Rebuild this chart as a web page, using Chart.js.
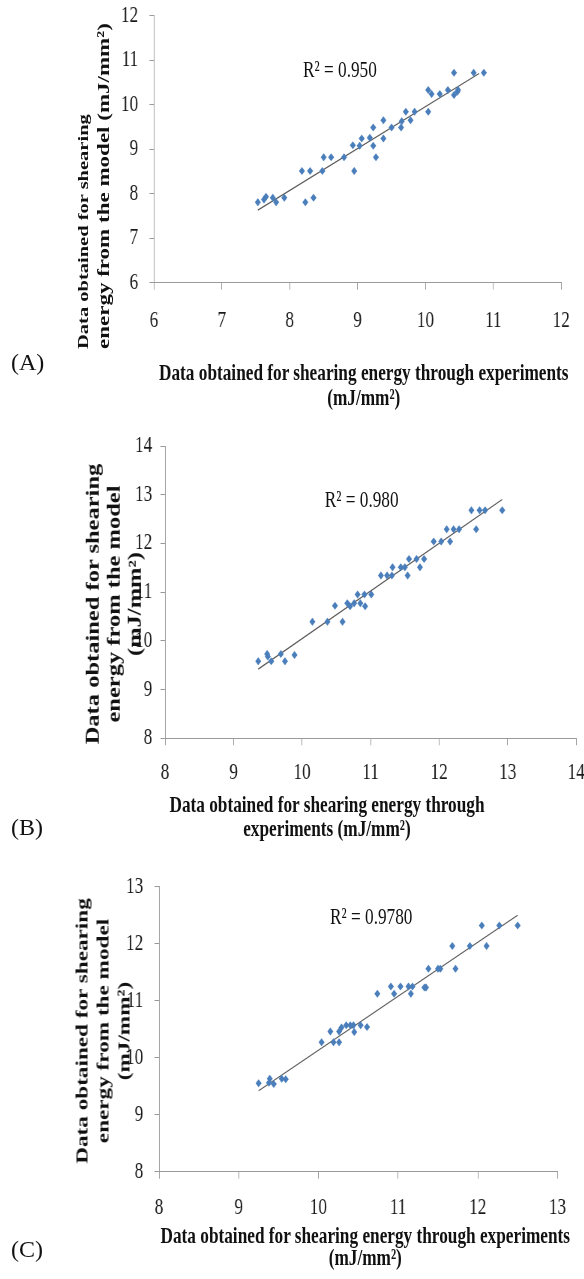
<!DOCTYPE html>
<html>
<head>
<meta charset="utf-8">
<script src="https://cdn.jsdelivr.net/npm/chart.js@4.4.1/dist/chart.umd.min.js"></script>
<style>
  html, body { margin:0; padding:0; background:#fff; }
  body { width:584px; height:1279px; position:relative; overflow:hidden; font-family:'Liberation Serif', 'Times New Roman', serif; color:#111; }
  #wrap { position:absolute; left:0; top:0; width:778.67px; height:1279px; transform:scaleX(0.75); transform-origin:0 0; }
  canvas { position:absolute; left:0; }
  .xt { position:absolute; text-align:center; font-weight:bold; font-size:23px; white-space:pre; }
  .yt { position:absolute; font-weight:bold; white-space:pre; transform:rotate(-90deg); transform-origin:0 0; }
  .r2 { position:absolute; font-size:23px; line-height:23px; white-space:pre; }
  .lab { position:absolute; left:11px; font-size:24px; line-height:24px; }
</style>
</head>
<body>
<div id="wrap">
  <canvas id="cA" width="779" height="340" style="top:0px"></canvas>
  <canvas id="cB" width="779" height="400" style="top:420px"></canvas>
  <canvas id="cC" width="779" height="439" style="top:840px"></canvas>

  <div class="r2" style="left:404px;top:58px">R² = 0.950</div>
  <div class="r2" style="left:433px;top:488px">R² = 0.980</div>
  <div class="r2" style="left:440px;top:905px">R² = 0.9780</div>

  <div class="xt" style="left:105px;top:360px;width:760px;line-height:25px">Data obtained for shearing energy through experiments
(mJ/mm²)</div>
  <div class="xt" style="left:56px;top:793px;width:760px;line-height:24px">Data obtained for shearing energy through
experiments (mJ/mm²)</div>
  <div class="xt" style="left:107px;top:1225px;width:760px;line-height:22px">Data obtained for shearing energy through experiments
(mJ/mm²)</div>

  <div class="yt" style="left:95.5px;top:349px;font-size:23px;line-height:27px;text-align:left"><span style="font-size:20.5px">Data obtained for shearing</span>
energy from the model (mJ/mm²)</div>
  <div class="yt" style="left:108.7px;top:804px;width:400px;font-size:24.5px;line-height:28px;text-align:center">Data obtained for shearing
energy from the model
(mJ/mm²)</div>
  <div class="yt" style="left:93.7px;top:1231px;width:400px;font-size:23.2px;line-height:28.5px;text-align:center">Data obtained for shearing
energy from the model
(mJ/mm²)</div>
</div>
<div class="lab" style="top:350px">(A)</div>
<div class="lab" style="top:815px">(B)</div>
<div class="lab" style="top:1237px">(C)</div>

<script>
// ---- Chart (A) ----
const aX = [7.53,7.62,7.65,7.75,7.80,7.92,8.23,8.35,8.18,8.30,8.48,8.50,8.61,8.80,8.95,8.93,9.03,9.06,9.18,9.23,9.27,9.23,9.38,9.38,9.50,9.64,9.65,9.71,9.78,9.84,10.04,10.04,10.09,10.21,10.33,10.42,10.42,10.47,10.48,10.71,10.86];
const aY = [7.81,7.87,7.93,7.91,7.81,7.91,7.81,7.91,8.51,8.51,8.51,8.82,8.82,8.82,8.51,9.09,9.08,9.24,9.26,9.08,8.82,9.49,9.24,9.65,9.49,9.49,9.63,9.84,9.65,9.84,9.84,10.33,10.24,10.24,10.33,10.72,10.22,10.29,10.33,10.72,10.72];
const aTrendX = [7.53, 10.79];
const aTrendY = [7.63, 10.70];
const aXRange = [6, 12];
const aYRange = [6, 12];

// ---- Chart (B) ----
const bX = [9.36,9.49,9.50,9.55,9.69,9.75,9.89,10.15,10.37,10.48,10.59,10.66,10.70,10.76,10.81,10.85,10.91,10.92,11.01,11.15,11.24,11.31,11.32,11.44,11.50,11.54,11.56,11.67,11.72,11.78,11.92,12.03,12.11,12.16,12.21,12.29,12.47,12.54,12.59,12.67,12.92];
const bY = [9.58,9.73,9.68,9.58,9.73,9.58,9.71,10.39,10.39,10.72,10.39,10.77,10.71,10.77,10.95,10.77,10.95,10.71,10.95,11.34,11.34,11.34,11.51,11.51,11.51,11.34,11.68,11.68,11.51,11.68,12.04,12.04,12.29,12.04,12.29,12.29,12.68,12.29,12.68,12.68,12.68];
const bTrendX = [9.36, 12.92];
const bTrendY = [9.42, 12.90];
const bXRange = [8, 14];
const bYRange = [8, 14];

// ---- Chart (C) ----
const cX = [9.25,9.38,9.39,9.44,9.54,9.59,10.04,10.15,10.19,10.26,10.26,10.29,10.35,10.40,10.44,10.45,10.53,10.61,10.74,10.91,10.95,11.03,11.13,11.16,11.18,11.33,11.35,11.38,11.50,11.53,11.68,11.72,11.90,12.05,12.11,12.27,12.50];
const cY = [9.55,9.56,9.63,9.54,9.63,9.62,10.27,10.46,10.27,10.27,10.46,10.53,10.57,10.57,10.57,10.45,10.57,10.54,11.12,11.25,11.12,11.25,11.25,11.12,11.25,11.23,11.23,11.56,11.56,11.56,11.96,11.56,11.96,12.32,11.96,12.32,12.32];
const cTrendX = [9.25, 12.50];
const cTrendY = [9.42, 12.50];
const cXRange = [8, 13];
const cYRange = [8, 13];

const pts = (xs, ys) => xs.map((x, i) => ({x: x, y: ys[i]}));

Chart.defaults.font.family = "'Liberation Serif', 'Times New Roman', serif";
Chart.defaults.color = '#1a1a1a';

function makeChart(id, xs, ys, tx, ty, xr, yr, L) {
  const axisColor = '#9a9a9a';
  new Chart(document.getElementById(id), {
    type: 'scatter',
    data: {
      datasets: [
        { data: pts(xs, ys), pointStyle: 'rectRot', pointRadius: 4, pointHoverRadius: 4,
          backgroundColor: '#4a7ebb', borderColor: '#4a7ebb', borderWidth: 0 },
        { data: pts(tx, ty), showLine: true, pointRadius: 0, borderColor: '#555555', borderWidth: 1.2, fill: false }
      ]
    },
    options: {
      responsive: false, animation: false, devicePixelRatio: 1,
      plugins: { legend: { display: false }, tooltip: { enabled: false } },
      layout: { padding: { top: L.top, right: L.right, left: 0, bottom: 0 } },
      scales: {
        x: {
          type: 'linear', min: xr[0], max: xr[1],
          ticks: { stepSize: 1, padding: L.xpad, font: { size: 23, lineHeight: 1.2 }, color: '#1a1a1a', maxRotation: 0 },
          grid: { drawOnChartArea: false, drawTicks: true, tickLength: 7, color: axisColor },
          border: { color: axisColor, width: 1 },
          afterFit: s => { s.height = L.xh; s.paddingLeft = 0; s.paddingRight = 0; }
        },
        y: {
          type: 'linear', min: yr[0], max: yr[1],
          ticks: { stepSize: 1, padding: L.ypad, font: { size: 23, lineHeight: 1.2 }, color: '#1a1a1a' },
          grid: { drawOnChartArea: false, drawTicks: true, tickLength: 6, color: axisColor },
          border: { color: axisColor, width: 1 },
          afterFit: s => { s.width = L.yw; s.paddingTop = 0; s.paddingBottom = 0; }
        }
      }
    }
  });
}

makeChart('cA', aX, aY, aTrendX, aTrendY, aXRange, aYRange, { top: 15.7, right: 30.7, xh: 57.3, yw: 205.3, xpad: 17, ypad: 15 });
makeChart('cB', bX, bY, bTrendX, bTrendY, bXRange, bYRange, { top: 26, right: 10.7, xh: 81.7, yw: 220, xpad: 14, ypad: 11 });
makeChart('cC', cX, cY, cTrendX, cTrendY, cXRange, cYRange, { top: 46.7, right: 35.7, xh: 107.3, yw: 212, xpad: 15.5, ypad: 15 });
</script>
</body>
</html>
